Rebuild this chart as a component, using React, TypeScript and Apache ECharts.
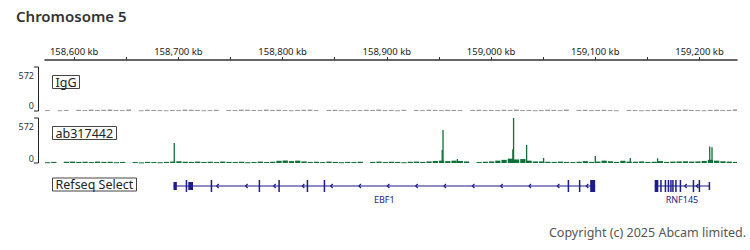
import React, { useEffect, useRef } from "react";
import * as echarts from "echarts";

// ---- axis (kb) ----
const X_MIN = 158572;
const X_MAX = 159236;
const TICK_VALUES = [158600, 158650, 158700, 158750, 158800, 158850, 158900, 158950, 159000, 159050, 159100, 159150, 159200];
const LABEL_VALUES = [158600, 158700, 158800, 158900, 159000, 159100, 159200];
const TRACK_MAX = 572;

// ---- signal bins (6 kb bins starting at BIN_START) ----
const BIN_START = 158572;
const BIN_SIZE = 6;
const IGG_BINS = [
  12, 0, 10, 14, 0, 16, 12, 18, 14, 16, 20, 14, 12, 18, 0, 10, 16, 14, 12, 10,
  14, 12, 18, 16, 14, 10, 12, 16, 0, 14, 12, 18, 16, 14, 12, 18,
  14, 16, 12, 10, 14, 16, 18, 12, 0, 14, 16, 12,
  10, 14, 12, 16, 14, 18, 12, 14, 10, 16, 0, 14, 12, 16, 14, 12,
  16, 14, 12, 0, 14, 16, 12,
  14, 12, 16, 14, 18, 12, 14, 10,
  12, 16, 14, 12, 18, 0, 14, 16, 12, 14, 16, 12, 10, 0, 14, 12,
  10, 12, 14, 16, 14, 12, 16, 18, 14, 12, 10, 14, 16, 12, 14, 20,
];
const AB_BINS = [
  10, 14, 0, 16, 18, 14, 16, 12, 18, 14, 16, 10, 14, 0, 12, 8, 14, 12, 10, 14,
  18, 22,
  16, 14, 18, 14, 16, 12, 18, 14, 12, 16, 10, 14, 18, 12,
  16, 28, 32, 24, 30, 20, 14, 16, 12, 18, 14, 10,
  14, 12, 16, 0, 14, 18, 12, 16, 14, 10, 16, 18, 14, 20, 26, 30,
  24, 30, 26, 20, 0, 12, 16,
  20, 30, 40, 55, 45, 50, 30, 20,
  20, 16, 14, 18, 14, 12, 16, 24, 14, 18, 30, 22, 14, 28, 18, 16,
  20, 14, 16, 24, 14, 18, 20, 22, 18, 20, 26, 40, 30, 22, 18, 14,
];
// narrow peaks: [position kb, value]
const AB_PEAKS: [number, number][] = [
  [158695.9, 254],
  [158953.0, 165],
  [158953.8, 419],
  [158967.6, 50],
  [159020.8, 174],
  [159021.5, 572],
  [159034.0, 229],
  [159050.3, 64],
  [159099.9, 90],
  [159133.5, 64],
  [159159.7, 60],
  [159209.7, 211],
  [159211.9, 200],
];

// ---- genes ----
const GENES = [
  { name: "EBF1", start: 158695.3, end: 159099.9 },
  { name: "RNF145", start: 159157.0, end: 159209.3 },
];
// [start, end, kind] kind 1 = coding exon, 0 = UTR
const EXONS: [number, number, number][] = [
  [158695.3, 158698.5, 0],
  [158707.0, 158708.0, 1],
  [158709.5, 158714.0, 0],
  [158731.0, 158732.0, 1],
  [158777.0, 158778.0, 1],
  [158795.9, 158796.9, 1],
  [158823.1, 158824.1, 1],
  [158839.4, 158840.4, 1],
  [159073.5, 159074.5, 1],
  [159084.3, 159085.3, 1],
  [159095.1, 159099.9, 1],
  [159157.0, 159160.5, 1],
  [159162.3, 159163.3, 1],
  [159166.6, 159167.6, 1],
  [159169.5, 159170.5, 1],
  [159171.9, 159172.9, 1],
  [159173.8, 159174.8, 1],
  [159176.7, 159177.7, 1],
  [159181.0, 159182.0, 1],
  [159193.5, 159194.5, 1],
  [159199.2, 159200.2, 1],
  [159208.8, 159209.8, 0],
];
const STRAND_MARKS = [
  158737.2, 158765.0, 158791.9, 158819.4, 158846.6, 158873.7, 158901.0, 158928.2,
  158955.3, 158982.6, 159009.7, 159036.9, 159064.1, 159091.9, 159186.3, 159197.5,
];

const FONT = "'Noto Sans', sans-serif";
const GREEN = "#0f7038";
const GRAY = "#9a9a9a";
const NAVY = "#1c1c8a";

const fmt = (v: number) => String(Math.round(v)).replace(/\B(?=(\d{3})+(?!\d))/g, ",") + " kb";

const binRows = (bins: number[]) => bins.map((v, i) => [BIN_START + i * BIN_SIZE, BIN_START + (i + 1) * BIN_SIZE, v]);
const peakRows = (peaks: [number, number][]) => peaks.map(([p, v]) => [p - 0.5, p + 0.5, v]);

const signalRender = (color: string, gap: number) => (params: any, api: any) => {
  const v = api.value(2);
  if (!v) return { type: "group", children: [] };
  const p0 = api.coord([api.value(0), Math.min(v, TRACK_MAX)]);
  const p1 = api.coord([api.value(1), 0]);
  let w = p1[0] - p0[0] - gap;
  if (w < 1.3) w = 1.3;
  const cs = params.coordSys;
  const shape = echarts.graphic.clipRectByRect(
    { x: p0[0], y: p0[1], width: w, height: Math.max(p1[1] - p0[1], 1) },
    { x: cs.x, y: cs.y, width: cs.width, height: cs.height + 1 }
  );
  if (!shape) return { type: "group", children: [] };
  return { type: "rect", shape, style: { fill: color } };
};

const bracket = (top: number, bottom: number) => ({
  type: "polyline",
  shape: { points: [[34, top], [38.5, top], [38.5, bottom], [34, bottom]] },
  style: { stroke: "#222", lineWidth: 1, fill: "none" },
});
const scaleText = (text: string, y: number) => ({
  type: "text",
  x: 34,
  y,
  style: { text, fontSize: 9, fontFamily: FONT, fill: "#333", align: "right", verticalAlign: "middle" },
});

let measureCtx: CanvasRenderingContext2D | null = null;
const measure = (text: string, font: string) => {
  if (!measureCtx) measureCtx = document.createElement("canvas").getContext("2d");
  measureCtx!.font = font;
  return measureCtx!.measureText(text).width;
};
const boxLabel = (text: string, top: number) => {
  const tw = measure(text, `12.5px 'Noto Sans'`);
  return {
    type: "group",
    children: [
      { type: "rect", shape: { x: 52.5, y: top - 0.5, width: Math.round(tw) + 6, height: 13 }, style: { fill: "#fff", stroke: "#444", lineWidth: 1 } },
      { type: "text", x: 55.5, y: top + 6.2, style: { text, fontSize: 12.5, fontFamily: FONT, fill: "#222", align: "left", verticalAlign: "middle" } },
    ],
  };
};

export default function App() {
  const ref = useRef<HTMLDivElement>(null);
  useEffect(() => {
    const chart = echarts.init(ref.current!, null, { renderer: "svg" });
    const hiddenX = (gi: number) => ({ type: "value", gridIndex: gi, min: X_MIN, max: X_MAX, show: false });
    const option: any = {
      animation: false,
      backgroundColor: "#fff",
      grid: [
        { left: 45, right: 13, top: 59, height: 1 },
        { left: 45, right: 13, top: 67, height: 44 },
        { left: 45, right: 13, top: 118, height: 45 },
        { left: 45, right: 13, top: 176, height: 20 },
      ],
      xAxis: [
        {
          type: "value",
          gridIndex: 0,
          position: "top",
          min: X_MIN,
          max: X_MAX,
          axisLine: { show: true, lineStyle: { color: "#333", width: 1.5 } },
          axisTick: { show: true, length: 3, inside: false, customValues: TICK_VALUES, lineStyle: { color: "#333" } },
          axisLabel: { show: true, customValues: LABEL_VALUES, formatter: fmt, margin: 3, fontSize: 9.5, color: "#222", fontFamily: FONT },
          splitLine: { show: false },
        },
        hiddenX(1),
        hiddenX(2),
        hiddenX(3),
      ],
      yAxis: [
        { type: "value", gridIndex: 0, show: false },
        { type: "value", gridIndex: 1, min: 0, max: TRACK_MAX, show: false, splitLine: { show: false } },
        { type: "value", gridIndex: 2, min: 0, max: TRACK_MAX, show: false, splitLine: { show: false } },
        { type: "value", gridIndex: 3, min: 0, max: 20, inverse: true, show: false, splitLine: { show: false } },
      ],
      series: [
        { type: "custom", xAxisIndex: 1, yAxisIndex: 1, data: binRows(IGG_BINS), renderItem: signalRender(GRAY, 1.5) },
        { type: "custom", xAxisIndex: 2, yAxisIndex: 2, data: binRows(AB_BINS), renderItem: signalRender(GREEN, 1) },
        { type: "custom", xAxisIndex: 2, yAxisIndex: 2, data: peakRows(AB_PEAKS), renderItem: signalRender(GREEN, 0) },
        {
          type: "custom",
          xAxisIndex: 3,
          yAxisIndex: 3,
          data: GENES.map((g) => [g.start, g.end]),
          renderItem: (params: any, api: any) => {
            const a = api.coord([api.value(0), 10]);
            const b = api.coord([api.value(1), 10]);
            return {
              type: "group",
              children: [
                { type: "line", shape: { x1: a[0], y1: a[1], x2: b[0], y2: b[1] }, style: { stroke: NAVY, lineWidth: 1.2 } },
                {
                  type: "text",
                  x: (a[0] + b[0]) / 2,
                  y: a[1] + 13,
                  style: { text: GENES[params.dataIndex].name, fontSize: 9, fontFamily: FONT, fill: NAVY, align: "center", verticalAlign: "middle" },
                },
              ],
            };
          },
        },
        {
          type: "custom",
          xAxisIndex: 3,
          yAxisIndex: 3,
          data: EXONS,
          renderItem: (params: any, api: any) => {
            const a = api.coord([api.value(0), 10]);
            const b = api.coord([api.value(1), 10]);
            const h = api.value(2) ? 12 : 8;
            let w = b[0] - a[0];
            if (w < 1.5) w = 1.5;
            return { type: "rect", shape: { x: a[0], y: a[1] - h / 2, width: w, height: h }, style: { fill: NAVY } };
          },
        },
        {
          type: "custom",
          xAxisIndex: 3,
          yAxisIndex: 3,
          data: STRAND_MARKS.map((p) => [p]),
          renderItem: (params: any, api: any) => {
            const c = api.coord([api.value(0), 10]);
            return {
              type: "polyline",
              shape: { points: [[c[0] + 1.5, c[1] - 2], [c[0] - 0.5, c[1]], [c[0] + 1.5, c[1] + 2]] },
              style: { stroke: NAVY, lineWidth: 1.2, fill: "none" },
            };
          },
        },
      ],
      graphic: [
        { type: "text", x: 16, y: 15.5, style: { text: "Chromosome 5", fontSize: 15, fontWeight: 600, fontFamily: FONT, fill: "#333", verticalAlign: "middle" } },
        bracket(67, 111),
        bracket(118, 163),
        scaleText(String(TRACK_MAX), 75),
        scaleText("0", 105.5),
        scaleText(String(TRACK_MAX), 126.7),
        scaleText("0", 158.3),
        boxLabel("IgG", 76),
        boxLabel("ab317442", 127),
        boxLabel("Refseq Select", 178.5),
        {
          type: "text",
          x: 746,
          y: 232,
          style: { text: "Copyright (c) 2025 Abcam limited.", fontSize: 12.5, fontFamily: FONT, fill: "#555", align: "right", verticalAlign: "middle" },
        },
      ],
    };
    chart.setOption(option);
    return () => chart.dispose();
  }, []);
  return <div ref={ref} style={{ position: "fixed", left: 0, top: 0, width: 750, height: 250, background: "#fff" }} />;
}
